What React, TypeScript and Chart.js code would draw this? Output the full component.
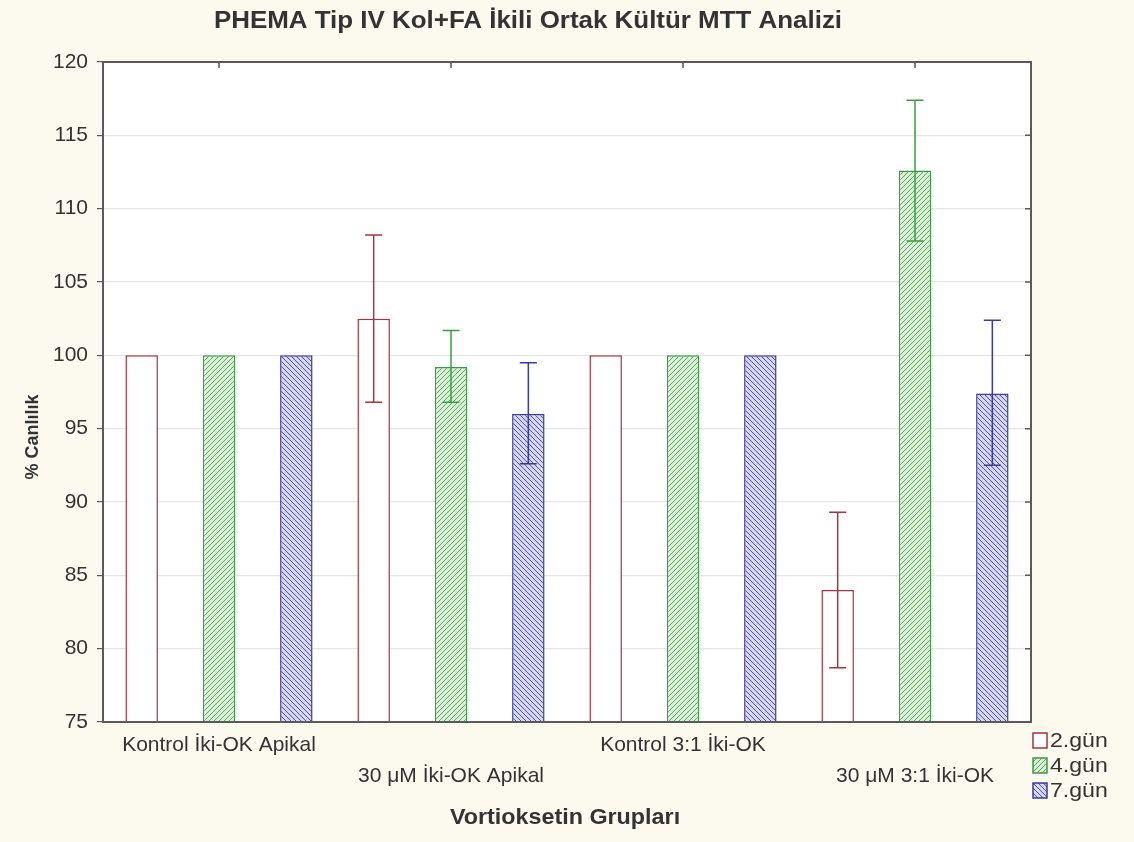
import React, { useEffect, useRef } from "react";
import { Chart, registerables } from "chart.js";

Chart.register(...registerables);

const groups: (string | string[])[] = [
  ["Kontrol İki-OK Apikal"],
  ["", "30 μM İki-OK Apikal"],
  ["Kontrol 3:1 İki-OK"],
  ["", "30 μM 3:1 İki-OK"],
];
const seriesNames = ["2.gün", "4.gün", "7.gün"];
const day2 = [100, 102.5, 100, 84.0];
const day4 = [100, 99.2, 100, 112.6];
const day7 = [100, 96.0, 100, 97.4];
const day2Low = [null, 96.8, null, 78.7];
const day2High = [null, 108.2, null, 89.3];
const day4Low = [null, 96.8, null, 107.8];
const day4High = [null, 101.7, null, 117.4];
const day7Low = [null, 92.6, null, 92.5];
const day7High = [null, 99.5, null, 102.4];
const yTicks = [75, 80, 85, 90, 95, 100, 105, 110, 115, 120];

const FONT = "'Liberation Sans', Arial, sans-serif";
const BG = "#fcf9ef";
const TEXT = "#333333";
const FRAME = "#5a5a5a";

function makeHatch(bg: string, line: string, dir: "/" | "\\"): CanvasPattern | string {
  const s = 5;
  const c = document.createElement("canvas");
  c.width = s;
  c.height = s;
  const g = c.getContext("2d");
  if (!g) return bg;
  g.fillStyle = bg;
  g.fillRect(0, 0, s, s);
  g.strokeStyle = line;
  g.lineWidth = 1;
  g.beginPath();
  if (dir === "/") {
    g.moveTo(-1, 1); g.lineTo(1, -1);
    g.moveTo(0, s); g.lineTo(s, 0);
    g.moveTo(s - 1, s + 1); g.lineTo(s + 1, s - 1);
  } else {
    g.moveTo(-1, s - 1); g.lineTo(1, s + 1);
    g.moveTo(0, 0); g.lineTo(s, s);
    g.moveTo(s - 1, -1); g.lineTo(s + 1, 1);
  }
  g.stroke();
  const p = g.createPattern(c, "repeat");
  return p || bg;
}

function wideText(ctx: CanvasRenderingContext2D, text: string, x: number, y: number, sx: number) {
  ctx.save();
  ctx.translate(x, y);
  ctx.scale(sx, 1);
  ctx.fillText(text, 0, 0);
  ctx.restore();
}

export default function App() {
  const ref = useRef<HTMLCanvasElement>(null);
  useEffect(() => {
    if (!ref.current) return;
    const redBorder = "#a8323e";
    const greenBorder = "#3f9a45";
    const blueBorder = "#3a3a98";
    const greenFill = makeHatch("#d8f2d6", "#64a466", "/");
    const blueFill = makeHatch("#d6d6f6", "#5050a6", "\\");
    const fills: any[] = ["#ffffff", greenFill, blueFill];
    const borders = [redBorder, greenBorder, blueBorder];
    const lows = [day2Low, day4Low, day7Low];
    const highs = [day2High, day4High, day7High];

    const decor = {
      id: "decor",
      beforeDraw(chart: any) {
        const { ctx, chartArea: a } = chart;
        ctx.save();
        ctx.fillStyle = BG;
        ctx.fillRect(0, 0, chart.width, chart.height);
        ctx.fillStyle = "#ffffff";
        ctx.fillRect(a.left, a.top, a.right - a.left, a.bottom - a.top);
        ctx.restore();
      },
      afterDatasetsDraw(chart: any) {
        const { ctx } = chart;
        const ys = chart.scales.y;
        ctx.save();
        for (let d = 0; d < 3; d++) {
          const meta = chart.getDatasetMeta(d);
          ctx.strokeStyle = borders[d];
          ctx.lineWidth = 1.5;
          meta.data.forEach((el: any, i: number) => {
            const lo = lows[d][i];
            const hi = highs[d][i];
            if (lo == null || hi == null) return;
            const x = el.x;
            const y1 = ys.getPixelForValue(hi);
            const y2 = ys.getPixelForValue(lo);
            ctx.beginPath();
            ctx.moveTo(x, y1); ctx.lineTo(x, y2);
            ctx.moveTo(x - 8.5, y1); ctx.lineTo(x + 8.5, y1);
            ctx.moveTo(x - 8.5, y2); ctx.lineTo(x + 8.5, y2);
            ctx.stroke();
          });
        }
        ctx.restore();
      },
      afterDraw(chart: any) {
        const { ctx, chartArea: a } = chart;
        const xs = chart.scales.x;
        const ys = chart.scales.y;
        ctx.save();
        // frame
        ctx.strokeStyle = FRAME;
        ctx.lineWidth = 2;
        ctx.strokeRect(a.left, a.top, a.right - a.left, a.bottom - a.top);
        ctx.lineWidth = 1.5;
        ctx.beginPath();
        for (let i = 0; i < groups.length; i++) {
          const x = xs.getPixelForTick(i);
          ctx.moveTo(x, a.top); ctx.lineTo(x, a.top + 6);
        }
        yTicks.forEach((v) => {
          const y = ys.getPixelForValue(v);
          ctx.moveTo(a.right - 6, y); ctx.lineTo(a.right, y);
        });
        ctx.stroke();
        // title
        ctx.fillStyle = TEXT;
        ctx.textAlign = "center";
        ctx.textBaseline = "middle";
        ctx.font = `bold 24px ${FONT}`;
        wideText(ctx, "PHEMA Tip IV Kol+FA İkili Ortak Kültür MTT Analizi", 528, 21, 1.08);
        // x title
        ctx.font = `bold 22px ${FONT}`;
        wideText(ctx, "Vortioksetin Grupları", 565, 818, 1.06);
        // y title
        ctx.save();
        ctx.translate(33, 437);
        ctx.rotate(-Math.PI / 2);
        ctx.font = `bold 18px ${FONT}`;
        ctx.fillText("% Canlılık", 0, 0);
        ctx.restore();
        // legend
        ctx.textAlign = "left";
        ctx.font = `21px ${FONT}`;
        const lx = a.right + 2;
        const ly = a.bottom + 11;
        seriesNames.forEach((name, i) => {
          const y = ly + i * 25;
          ctx.fillStyle = fills[i];
          ctx.fillRect(lx, y, 14, 15);
          ctx.strokeStyle = borders[i];
          ctx.lineWidth = 1.5;
          ctx.strokeRect(lx, y, 14, 15);
          ctx.fillStyle = TEXT;
          wideText(ctx, name, lx + 17, y + 8, 1.1);
        });
        ctx.restore();
      },
    };

    const chart = new Chart(ref.current, {
      type: "bar",
      data: {
        labels: groups as any,
        datasets: [day2, day4, day7].map((vals, d) => ({
          label: seriesNames[d],
          data: vals,
          backgroundColor: fills[d],
          borderColor: borders[d],
          borderWidth: 1.5,
          categoryPercentage: 1.0,
          barPercentage: 0.42,
        })),
      },
      options: {
        responsive: true,
        maintainAspectRatio: false,
        animation: false,
        layout: { padding: { top: 62, right: 103, left: 0, bottom: 0 } },
        plugins: {
          legend: { display: false },
          title: { display: false },
          tooltip: { enabled: false },
        },
        scales: {
          x: {
            grid: { display: false, drawTicks: false },
            border: { display: false },
            ticks: {
              color: TEXT,
              font: { family: FONT, size: 21, lineHeight: 1.48 },
              padding: 8,
              maxRotation: 0,
              autoSkip: false,
            },
            afterFit: (s: any) => { s.height = 120; },
          },
          y: {
            min: 75,
            max: 120,
            afterBuildTicks: (s: any) => { s.ticks = yTicks.map((v) => ({ value: v })); },
            grid: { color: "#e6e6e6", tickColor: FRAME, tickLength: 6, lineWidth: 1.2 },
            border: { display: false },
            ticks: {
              color: TEXT,
              font: { family: FONT, size: 21 },
              padding: 9,
            },
            afterFit: (s: any) => { s.width = 103; },
          },
        },
      },
      plugins: [decor],
    });
    return () => chart.destroy();
  }, []);

  return (
    <div style={{ position: "absolute", left: 0, top: 0, width: 1134, height: 842, background: BG }}>
      <canvas ref={ref} />
    </div>
  );
}
